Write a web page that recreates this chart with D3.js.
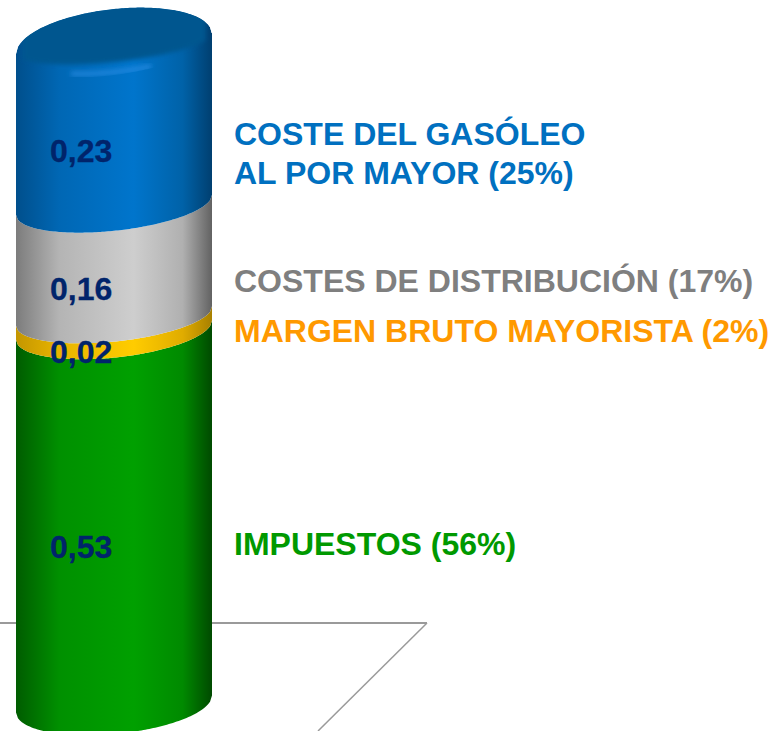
<!DOCTYPE html>
<html>
<head>
<meta charset="utf-8">
<script src="https://cdn.jsdelivr.net/npm/d3@7"></script>
<style>
	html, body { margin: 0; padding: 0; background: #fff; }
	svg { display: block; }
	text { font-family: "Liberation Sans", Arial, sans-serif; font-weight: bold; }
</style>
</head>
<body>
<div id="graphic"></div>
<script>
const categories = ['IMPUESTOS', 'MARGEN BRUTO MAYORISTA', 'COSTES DE DISTRIBUCIÓN', 'COSTE DEL GASÓLEO AL POR MAYOR'];
const values = [0.53, 0.02, 0.16, 0.23];
const valueLabels = ['0,53', '0,02', '0,16', '0,23'];
const shares = [56, 2, 17, 25];
const textColours = ['#009900', '#ff9900', '#7f7f7f', '#0070c0'];
const shades = [
	['#005c00', '#009000', '#00a000', '#008a00', '#004a00'],
	['#c49600', '#e8b400', '#ffcc00', '#e0ac00', '#a88000'],
	['#7c7c7c', '#b4b4b4', '#cecece', '#b0b0b0', '#626262'],
	['#004f8c', '#0067b4', '#0075cc', '#0062a8', '#003f70']
];

const width = 772;
const height = 731;
const stops = [0, 0.22, 0.6, 0.85, 1];

const svg = d3.select('#graphic').append('svg').attr('width', width).attr('height', height);
const defs = svg.append('defs');

shades.forEach((s, i) => {
	defs.append('linearGradient').attr('id', 'shade' + i)
		.selectAll('stop').data(s).join('stop')
		.attr('offset', (d, j) => stops[j])
		.attr('stop-color', (d) => d);
});
defs.append('filter').attr('id', 'soft').attr('x', '-10%').attr('y', '-30%').attr('width', '120%').attr('height', '160%')
	.append('feGaussianBlur').attr('stdDeviation', 2.5);
defs.append('filter').attr('id', 'softer').attr('x', '-10%').attr('y', '-30%').attr('width', '120%').attr('height', '160%')
	.append('feGaussianBlur').attr('stdDeviation', 2);

const total = d3.sum(values);
const tops = Array.from(d3.cumsum(values));
const bottoms = [0].concat(tops.slice(0, -1));

// x runs across the cylinder from -1 to 1, y is the stacked value (the picture has some perspective, so not one straight scale)
const x = d3.scaleLinear().domain([-1, 1]).range([16, 212]);
const y = d3.scaleLinear().domain([0, tops[1], total]).range([704, 316, 45]);
const tilt = d3.scaleLinear().domain([0, tops[2], total]).range([8.5, 10, 12]);
const us = d3.range(-1, 1.0001, 0.02);

// ellipse edge at a given stack height, tilted up to the right
const edge = (yc, t, b, sign) => d3.line()
	.x((u) => x(u))
	.y((u) => yc - t * u + sign * b * Math.sqrt(Math.max(0, 1 - u * u)));

function bandPath(v0, v1, b0, b1) {
	const lower = edge(y(v0), tilt(v0), b0, 1)(us);
	const upper = edge(y(v1), tilt(v1), b1, 1)(us.slice().reverse());
	return lower + 'L' + upper.slice(1) + 'Z';
}

// floor
const floor = svg.append('g').attr('fill', 'none').attr('stroke', '#9a9a9a');
floor.append('path').attr('stroke-width', 2).attr('d', d3.line()([[0, 623], [427, 623]]));
floor.append('path').attr('stroke-width', 1.5).attr('d', d3.line()([[427, 623], [318, 731]]));

// cylinder bands, bottom first
const sag = [30, 27.5, 25.6, 26];
svg.selectAll('path.band')
	.data(values)
	.join('path')
	.attr('class', 'band')
	.attr('fill', (d, i) => 'url(#shade' + i + ')')
	.attr('d', (d, i) => bandPath(bottoms[i], tops[i], sag[i], i < 3 ? sag[i + 1] : 0));

// lid
const lidPath = edge(y(total) - 1, 10, 35, -1)(us) + 'L' + edge(y(total), tilt(total), 30, 1)(us.slice().reverse()).slice(1) + 'Z';
const innerUs = us.map((u) => u * 0.93);
const innerLid = edge(y(total) - 2, 10, 44, -1)(innerUs) + 'L' + edge(y(total) - 2, 10, 19, 1)(innerUs.slice().reverse()).slice(1) + 'Z';

defs.append('clipPath').attr('id', 'lidClip').append('path').attr('d', lidPath);
const lid = svg.append('g').attr('clip-path', 'url(#lidClip)');
lid.append('path').attr('d', lidPath).attr('fill', 'url(#shade3)');
lid.append('path').attr('d', innerLid).attr('fill', '#00568f').attr('filter', 'url(#softer)');
lid.append('path')
	.attr('d', edge(y(total) + 1, 10, 26, 1)(us.filter((u) => Math.abs(u + 0.02) < 0.42)))
	.attr('fill', 'none').attr('stroke', '#2f90e8').attr('stroke-width', 3).attr('filter', 'url(#soft)');

// values on the cylinder
const labelY = d3.scaleOrdinal().domain(categories).range([546, 351, 288, 150]);
svg.selectAll('text.value')
	.data(valueLabels)
	.join('text')
	.attr('class', 'value')
	.attr('x', 50)
	.attr('y', (d, i) => labelY(categories[i]))
	.attr('dy', '0.36em')
	.attr('font-size', 32)
	.attr('fill', '#00246b')
	.attr('stroke', '#00246b')
	.attr('stroke-width', 0.3)
	.text((d) => d);

// legend labels to the right
const legendLines = [
	['IMPUESTOS (' + shares[0] + '%)'],
	['MARGEN BRUTO MAYORISTA (' + shares[1] + '%)'],
	['COSTES DE DISTRIBUCIÓN (' + shares[2] + '%)'],
	['COSTE DEL GASÓLEO', 'AL POR MAYOR (' + shares[3] + '%)']
];
const legendY = [555, 342, 292, 145];
legendLines.forEach((lines, i) => {
	svg.selectAll('text.legend' + i)
		.data(lines)
		.join('text')
		.attr('class', 'legend' + i)
		.attr('x', 234)
		.attr('y', (d, j) => legendY[i] + j * 39)
		.attr('font-size', 32)
		.attr('fill', textColours[i])
		.text((d) => d);
});
</script>
</body>
</html>
